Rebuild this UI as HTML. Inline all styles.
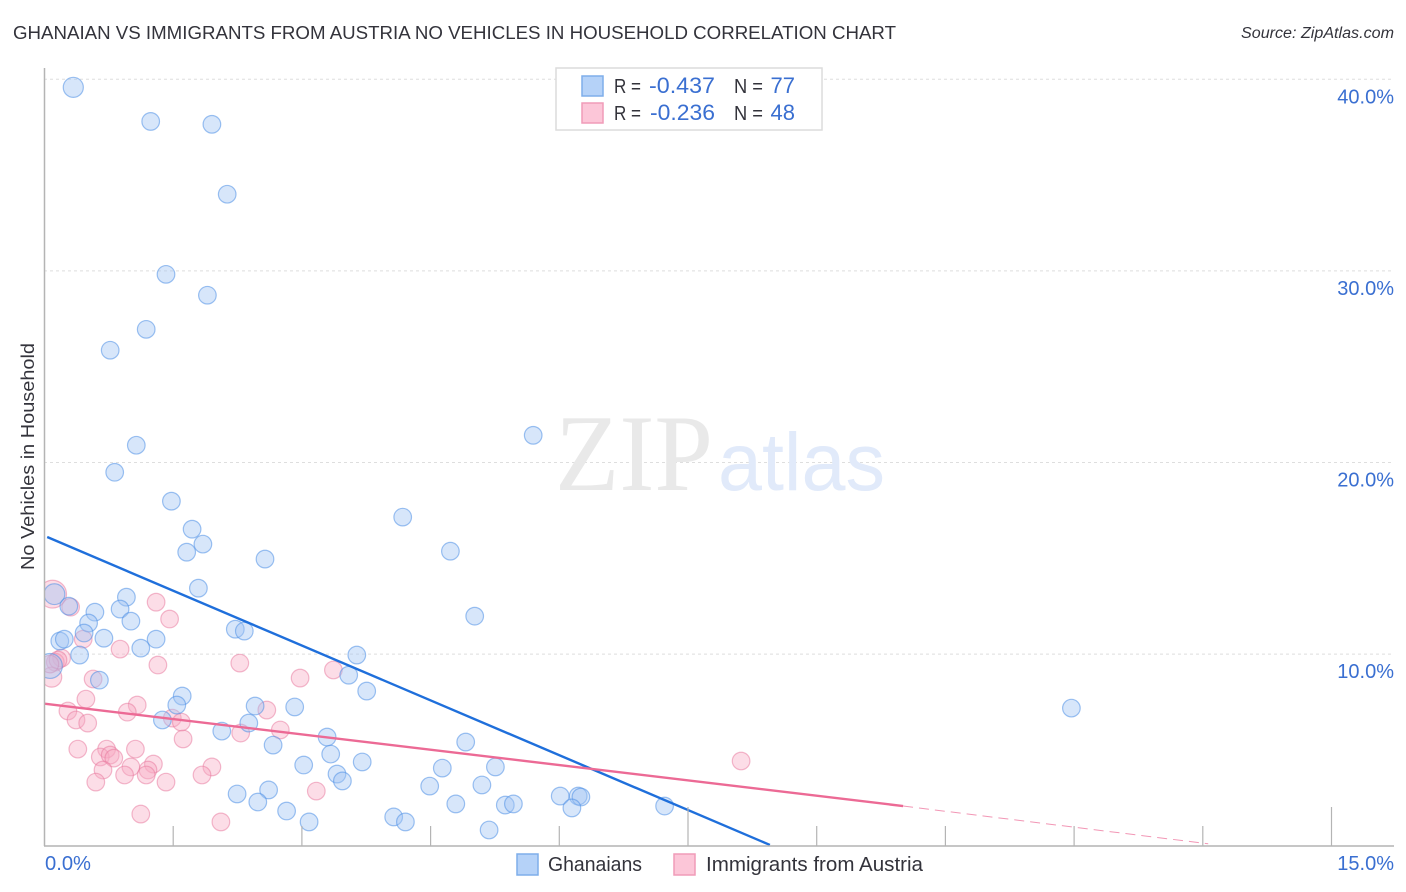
<!DOCTYPE html>
<html lang="en">
<head>
<meta charset="utf-8">
<title>Ghanaian vs Immigrants from Austria No Vehicles in Household Correlation Chart</title>
<style>
html,body{margin:0;padding:0;background:#fff}
svg{display:block}
text{font-family:"Liberation Sans",sans-serif}
</style>
</head>
<body>
<svg id="chart" xmlns="http://www.w3.org/2000/svg" width="1406" height="892" viewBox="0 0 1406 892">
  <defs><clipPath id="plot-clip"><rect x="45" y="68" width="1349" height="778"/></clipPath></defs>
  <rect x="0" y="0" width="1406" height="892" fill="#fff"/>
  <text x="13" y="39" font-size="18.5" fill="#33333b" textLength="883" lengthAdjust="spacingAndGlyphs">GHANAIAN VS IMMIGRANTS FROM AUSTRIA NO VEHICLES IN HOUSEHOLD CORRELATION CHART</text>
  <text x="1241" y="38" font-size="15.5" font-style="italic" fill="#33333b" textLength="153" lengthAdjust="spacingAndGlyphs">Source: ZipAtlas.com</text>
  <g id="grid"></g>
  <text x="555" y="490" font-size="109" fill="#e9e9e9" style="font-family:'Liberation Serif',serif" textLength="158" lengthAdjust="spacingAndGlyphs">ZIP</text>
  <text x="718" y="490" font-size="82" fill="#e1eafa" textLength="167" lengthAdjust="spacingAndGlyphs">atlas</text>
  <g id="pink-points" clip-path="url(#plot-clip)"></g>
  <g id="blue-points" clip-path="url(#plot-clip)"></g>
  <g id="trends"></g>
  <line x1="44.5" y1="68" x2="44.5" y2="846" stroke="#b4b4b4" stroke-width="1.5"/>
  <line x1="44" y1="846" x2="1394" y2="846" stroke="#b4b4b4" stroke-width="1.5"/>
  <g id="x-ticks"></g>
  <g id="y-labels"></g>
  <text x="45" y="870" font-size="20" fill="#3a6fd1" textLength="46" lengthAdjust="spacingAndGlyphs">0.0%</text>
  <text x="1394" y="870" font-size="20" fill="#3a6fd1" text-anchor="end">15.0%</text>
  <text transform="translate(34,570) rotate(-90)" font-size="18.5" fill="#33333b" textLength="227" lengthAdjust="spacingAndGlyphs">No Vehicles in Household</text>

  <g>
    <rect x="556" y="68" width="266" height="62" fill="#fff" stroke="#dcdcdc" stroke-width="1.5"/>
    <rect x="582" y="76" width="21" height="20" fill="#b5d2f8" stroke="#7eaeea" stroke-width="1.5"/>
    <rect x="582" y="103" width="21" height="20" fill="#fcc6d8" stroke="#f09cb8" stroke-width="1.5"/>
    <text x="614" y="93" font-size="20" fill="#33333b" textLength="27" lengthAdjust="spacingAndGlyphs">R =</text>
    <text x="649" y="93" font-size="22" fill="#3a6fd1" textLength="66" lengthAdjust="spacingAndGlyphs">-0.437</text>
    <text x="734" y="93" font-size="20" fill="#33333b" textLength="29" lengthAdjust="spacingAndGlyphs">N =</text>
    <text x="795" y="93" font-size="22" fill="#3a6fd1" text-anchor="end">77</text>
    <text x="614" y="120" font-size="20" fill="#33333b" textLength="27" lengthAdjust="spacingAndGlyphs">R =</text>
    <text x="650" y="120" font-size="22" fill="#3a6fd1" textLength="65" lengthAdjust="spacingAndGlyphs">-0.236</text>
    <text x="734" y="120" font-size="20" fill="#33333b" textLength="29" lengthAdjust="spacingAndGlyphs">N =</text>
    <text x="795" y="120" font-size="22" fill="#3a6fd1" text-anchor="end">48</text>
  </g>

  <g>
    <rect x="517" y="854" width="21" height="21" fill="#b5d2f8" stroke="#7eaeea" stroke-width="1.5"/>
    <text x="548" y="871" font-size="20" fill="#33333b" textLength="94" lengthAdjust="spacingAndGlyphs">Ghanaians</text>
    <rect x="674" y="854" width="21" height="21" fill="#fcc6d8" stroke="#f09cb8" stroke-width="1.5"/>
    <text x="706" y="871" font-size="20" fill="#33333b" textLength="217" lengthAdjust="spacingAndGlyphs">Immigrants from Austria</text>
  </g>
</svg>
<script>
const yTickValues = [10, 20, 30, 40];
const xTickValues = [1.43, 2.86, 4.29, 5.72, 7.15, 8.58, 10.01, 11.44, 12.87, 14.3];
const xMajorTicks = [7.15, 14.3];

const blueX = [0.32,1.18,1.86,2.03,1.35,1.81,1.13,0.73,1.02,0.78,5.43,1.41,1.64,3.98,1.76,1.58,4.51,2.45,1.71,0.91,0.11,0.27,0.56,0.84,4.78,0.49,0.96,0.44,2.12,2.22,0.17,0.22,0.66,1.24,1.07,0.39,3.47,0.06,0.61,3.38,1.53,3.58,1.47,2.34,2.78,11.41,1.31,2.27,1.97,3.14,4.68,2.54,3.18,3.53,2.88,4.42,5.01,3.25,3.31,4.28,4.86,2.14,2.49,2.37,4.57,5.12,5.21,5.73,5.93,5.96,5.86,6.89,2.69,2.94,3.88,4.01,4.94];
const blueY = [39.58,37.80,37.65,34.00,29.82,28.73,26.95,25.86,20.90,19.49,21.42,17.98,16.52,17.15,15.74,15.32,15.37,14.96,13.44,12.97,13.13,12.50,12.19,12.35,11.98,11.62,11.72,11.10,11.30,11.20,10.68,10.78,10.83,10.78,10.31,9.95,9.95,9.38,8.64,8.90,7.81,8.07,7.34,7.29,7.24,7.18,6.56,6.40,5.98,5.67,5.41,5.25,4.78,4.37,4.21,4.05,4.11,3.74,3.38,3.11,3.17,2.70,2.91,2.28,2.18,2.12,2.18,2.59,2.59,2.54,1.97,2.07,1.81,1.24,1.50,1.24,0.82];
const blueWeight = [1.3,1,1,1,1,1,1,1,1,1,1,1,1,1,1,1,1,1,1,1,1.4,1,1,1,1,1,1,1,1,1,1,1,1,1,1,1,1,2,1,1,1,1,1,1,1,1,1,1,1,1,1,1,1,1,1,1,1,1,1,1,1,1,1,1,1,1,1,1,1,1,1,1,1,1,1,1,1];

const pinkX = [0.09,0.29,1.24,1.39,0.43,0.84,1.26,2.17,0.19,0.12,0.08,0.54,0.46,0.26,1.03,0.92,0.35,0.48,1.42,1.52,2.47,2.62,2.18,1.54,0.37,0.69,1.01,0.62,0.73,0.77,0.65,1.21,0.96,1.15,0.89,1.13,1.35,0.57,1.86,1.75,1.07,1.96,2.84,3.21,7.74,3.02,0.15,0.06];
const pinkY = [13.13,12.45,12.71,11.83,10.78,10.26,9.43,9.53,9.79,9.58,8.80,8.70,7.65,7.03,7.34,6.97,6.56,6.40,6.66,6.45,7.08,6.04,5.88,5.57,5.04,5.04,5.04,4.63,4.73,4.57,3.95,4.26,4.11,3.95,3.69,3.69,3.32,3.32,4.11,3.69,1.65,1.24,8.75,9.17,4.42,2.85,9.69,9.48];
const pinkWeight = [2.5,1,1,1,1,1,1,1,1,1,1.3,1,1,1,1,1,1,1,1,1,1,1,1,1,1,1,1,1,1,1,1,1,1,1,1,1,1,1,1,1,1,1,1,1,1,1,1,1];

const blueTrendX = [0.03, 8.06];
const blueTrendY = [16.11, 0.04];
const pinkTrendX = [0, 9.54];
const pinkTrendY = [7.41, 2.07];
const pinkDashX = [9.54, 12.93];
const pinkDashY = [2.07, 0.1];

const NS = 'http://www.w3.org/2000/svg';
const xScale = function (v) { return 44.5 + v * 90; };
const yScale = function (v) { return 845.7 - v * 19.16; };
const radius = function (w) { return 8.8 * Math.sqrt(w); };

function make(tag, parentId, attrs) {
  const el = document.createElementNS(NS, tag);
  Object.keys(attrs).forEach(function (k) { el.setAttribute(k, attrs[k]); });
  document.getElementById(parentId).appendChild(el);
  return el;
}

yTickValues.forEach(function (v) {
  const line = make('line', 'grid', { x1: 44, x2: 1394, y1: yScale(v), y2: yScale(v), stroke: '#dedede', 'stroke-width': 1, 'stroke-dasharray': '3 3' });
  
  
  const label = make('text', 'y-labels', { x: 1394, y: yScale(v) + 24, 'font-size': 20, fill: '#3a6fd1', 'text-anchor': 'end' });
  label.textContent = v.toFixed(1) + '%';
  
  
});

xTickValues.forEach(function (v) {
  const top = xMajorTicks.indexOf(v) >= 0 ? 807 : 826;
  const tick = make('line', 'x-ticks', { x1: xScale(v), x2: xScale(v), y1: top, y2: 846, stroke: '#b4b4b4', 'stroke-width': 1.2 });
  
  
});

pinkX.forEach(function (v, i) {
  const c = make('circle', 'pink-points', { cx: xScale(v), cy: yScale(pinkY[i]), r: radius(pinkWeight[i]), fill: '#f8a9c3', 'fill-opacity': 0.4, stroke: '#e8769b', 'stroke-opacity': 0.5, 'stroke-width': 1.2 });
  
  
});

blueX.forEach(function (v, i) {
  const c = make('circle', 'blue-points', { cx: xScale(v), cy: yScale(blueY[i]), r: radius(blueWeight[i]), fill: '#9fc4f4', 'fill-opacity': 0.42, stroke: '#4f8fe6', 'stroke-opacity': 0.55, 'stroke-width': 1.2 });
  
  
});

const blueLine = make('line', 'trends', { x1: xScale(blueTrendX[0]), y1: yScale(blueTrendY[0]), x2: xScale(blueTrendX[1]), y2: yScale(blueTrendY[1]), stroke: '#1f6fdb', 'stroke-width': 2.4 });



const pinkLine = make('line', 'trends', { x1: xScale(pinkTrendX[0]), y1: yScale(pinkTrendY[0]), x2: xScale(pinkTrendX[1]), y2: yScale(pinkTrendY[1]), stroke: '#ec6a95', 'stroke-width': 2.4 });



const pinkDash = make('line', 'trends', { x1: xScale(pinkDashX[0]), y1: yScale(pinkDashY[0]), x2: xScale(pinkDashX[1]), y2: yScale(pinkDashY[1]), stroke: '#ec6a95', 'stroke-opacity': 0.7, 'stroke-width': 1, 'stroke-dasharray': '10 6' });


</script>
</body>
</html>
